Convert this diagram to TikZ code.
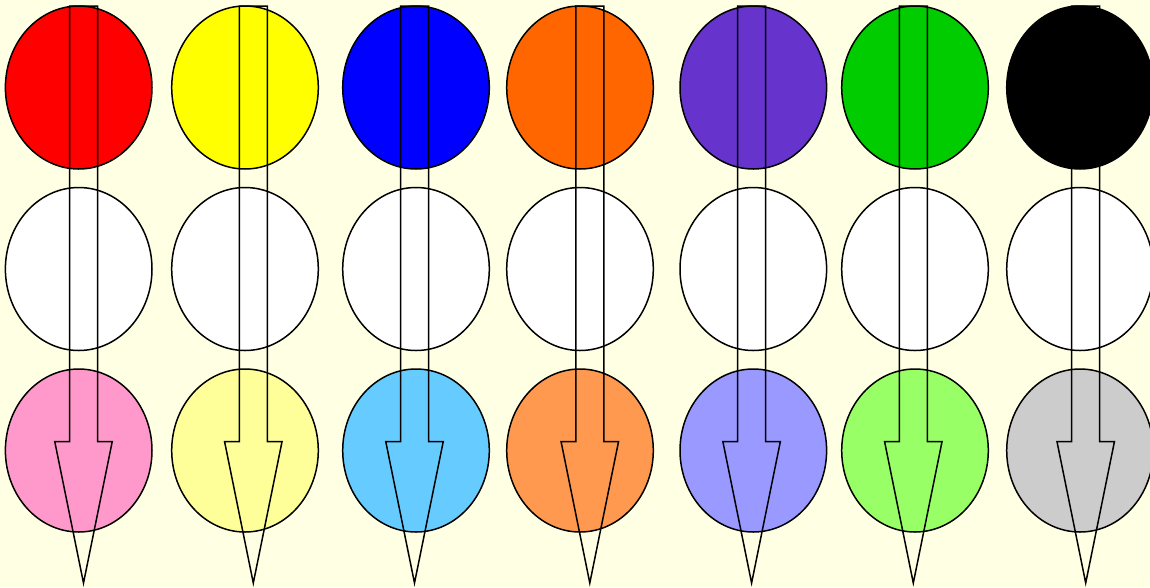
\documentclass[tikz,border=0pt]{standalone}
\usetikzlibrary{shapes.geometric}
\definecolor{bg}{HTML}{FFFFE3}
\definecolor{ca1}{HTML}{FF0000}\definecolor{cc1}{HTML}{FF99CC}
\definecolor{ca2}{HTML}{FFFF00}\definecolor{cc2}{HTML}{FFFF99}
\definecolor{ca3}{HTML}{0000FF}\definecolor{cc3}{HTML}{66CCFF}
\definecolor{ca4}{HTML}{FF6600}\definecolor{cc4}{HTML}{FF9950}
\definecolor{ca5}{HTML}{6633CC}\definecolor{cc5}{HTML}{9999FF}
\definecolor{ca6}{HTML}{00CC00}\definecolor{cc6}{HTML}{99FF66}
\definecolor{ca7}{HTML}{000000}\definecolor{cc7}{HTML}{CCCCCC}
\begin{document}
\begin{tikzpicture}[x=1pt,y=-1pt,
  ell/.style={ellipse, draw=black, line width=1.5pt, minimum width=146.6pt, minimum height=163pt, inner sep=0pt},
  blockarrow/.style={draw=black, line width=1.5pt, line join=miter}]
\useasboundingbox (0,0) rectangle (1150,587);
\fill[bg] (0,0) rectangle (1150,587);
\foreach \i/\ex/\ax in {1/78.7/83.5, 2/245/253.3, 3/416/414.5, 4/580/589.8, 5/753.3/751.6, 6/915/913.3, 7/1080/1085.7}{
  \node[ell, fill=ca\i] (t\i) at (\ex,87.5) {};
  \node[ell, fill=white] (m\i) at (\ex,269) {};
  \node[ell, fill=cc\i] (b\i) at (\ex,450.5) {};
  \coordinate (top\i) at (\ax,6);
  \coordinate (tip\i) at (\ax,583);
  \draw[blockarrow] (top\i) ++(-14,0) -- ++(28,0) -- ++(0,435.5) -- ++(14.75,0) -- (tip\i) -- ++(-28.75,-141.5) -- ++(14.75,0) -- cycle;
}
\end{tikzpicture}
\end{document}
